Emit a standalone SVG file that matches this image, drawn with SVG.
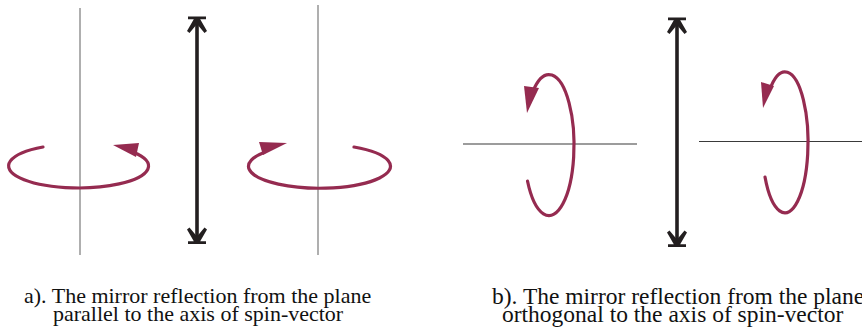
<svg xmlns="http://www.w3.org/2000/svg" width="862" height="335" viewBox="0 0 862 335">
<style>
.axis{stroke:#7a7a7a;stroke-width:1.2;fill:none}
.haxis{stroke:#3a3a3a;stroke-width:1.1;fill:none}
.spin{stroke:#952b50;stroke-width:3.2;fill:none;stroke-linecap:round}
.head{fill:#952b50}
.shaft{stroke:#231f20;stroke-width:3.6;fill:none}
.tip{fill:#231f20}
.lbl{font-family:"Liberation Serif","Times New Roman",serif;font-size:22px;fill:#111}
.lblb{font-size:23.5px}
</style>
<defs>
<path id="ah" d="M-9,0 H9 V2.8 H3.2 L10,14.5 L7.5,16.5 L0,7.5 L-7.5,16.5 L-10,14.5 L-3.2,2.8 H-9 Z"/>
</defs>
<g id="panel-a">
<line class="axis" x1="80" y1="8" x2="80" y2="255"/>
<line class="axis" x1="318" y1="5" x2="318" y2="255"/>
<g id="spin-a1">
<path class="spin" d="M134,152.5 A70 22 0 1 1 43,147"/>
<polygon class="head" points="113,145 139,143 136,157"/>
</g>
<g id="spin-a2">
<path class="spin" d="M264,152.5 A71 22 0 1 0 354,147"/>
<polygon class="head" points="287,143 259,142 263,155"/>
</g>
</g>
<g id="panel-b">
<line class="haxis" x1="463" y1="144" x2="637" y2="144"/>
<line class="haxis" x1="699" y1="141.5" x2="862" y2="141.5"/>
<g id="spin-b1">
<path class="spin" d="M533,91 A25 70.5 0 1 1 527.5,181"/>
<polygon class="head" points="524,86 539,88 527,113"/>
</g>
<g id="spin-b2">
<path class="spin" d="M770,89 A23 70.5 0 1 1 765,177"/>
<polygon class="head" points="761,82 774,86 763,108"/>
</g>
</g>
<g id="connectors">
<g id="mirror-a">
<line class="shaft" x1="197" y1="20" x2="197" y2="240"/>
<use href="#ah" class="tip" transform="translate(197,16.5)"/>
<use href="#ah" class="tip" transform="translate(197,244) scale(1,-1)"/>
</g>
<g id="mirror-b">
<line class="shaft" x1="677" y1="21" x2="677" y2="243"/>
<use href="#ah" class="tip" transform="translate(677,17.5)"/>
<use href="#ah" class="tip" transform="translate(677,247) scale(1,-1)"/>
</g>
</g>
<g id="captions">
<text class="lbl" x="24" y="303">a). The mirror reflection from the plane</text>
<text class="lbl" x="53" y="321">parallel to the axis of spin-vector</text>
<text class="lbl lblb" x="492" y="304">b). The mirror reflection from the plane</text>
<text class="lbl lblb" x="502" y="322">orthogonal to the axis of spin-vector</text>
</g>
</svg>
